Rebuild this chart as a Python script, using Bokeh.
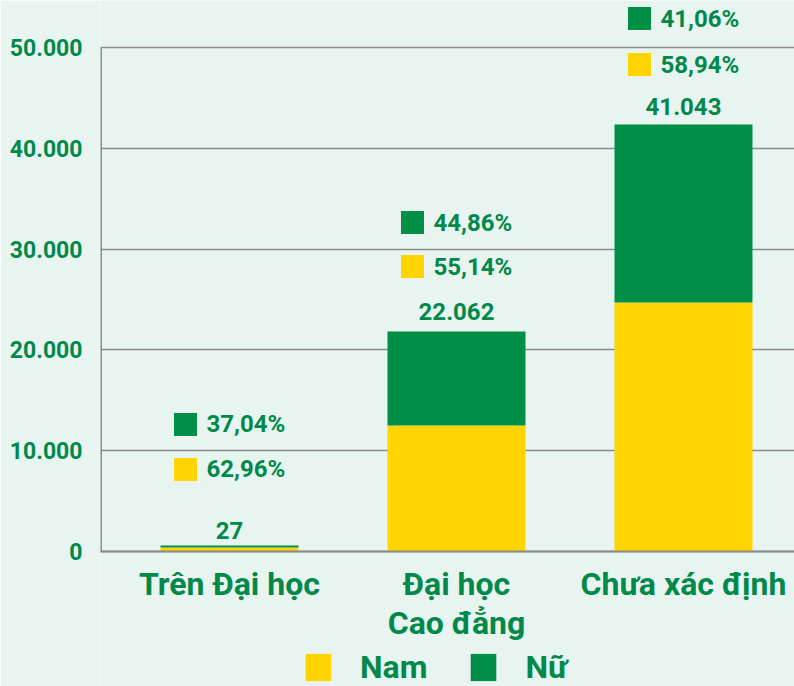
from bokeh.plotting import figure
from bokeh.models import Range1d, FixedTicker, Legend, LegendItem, ColumnDataSource
from bokeh.core.properties import value
from bokeh.embed import file_html
from bokeh.resources import INLINE

# ---- data ----
categories = ["Trên Đại học", "Đại học\nCao đẳng", "Chưa xác định"]
series = ["Nam", "Nữ"]
nam = [400, 12500, 24700]
nu = [200, 9325, 17660]
total_labels = ["27", "22.062", "41.043"]
pct_nam = ["62,96%", "55,14%", "58,94%"]
pct_nu = ["37,04%", "44,86%", "41,06%"]
y_ticks = [0, 10000, 20000, 30000, 40000, 50000]
y_tick_labels = ["0", "10.000", "20.000", "30.000", "40.000", "50.000"]

# ---- style ----
GREEN = "#008f47"
YELLOW = "#ffd400"
TEXT = "#00894a"
BG = "#e8f4f0"
GRID = "#8c8c8c"
FONT = "Roboto"

FL = 100
FW = 694
FH = 686
BASE_PX = 551            # page y of value 0
PX_PER_10K = 100.8
PX_PER_CAT = 227.0
X0 = -(229 - FL) / PX_PER_CAT
X1 = X0 + FW / PX_PER_CAT
Y0 = -(FH - BASE_PX) / PX_PER_10K * 10000
Y1 = BASE_PX / PX_PER_10K * 10000
upp = 10000 / PX_PER_10K   # data units per pixel (y)
xpp = 1.0 / PX_PER_CAT     # data units per pixel (x)

lab_off = [15, 20, 18]
nam_off = [76, 65, 60]
nu_off = [121, 109, 106]

xs = list(range(len(categories)))
tops = [a + b for a, b in zip(nam, nu)]

p = figure(frame_width=FW, frame_height=FH, x_range=Range1d(X0, X1), y_range=Range1d(Y0, Y1),
           output_backend="svg", toolbar_location=None,
           min_border_left=FL, min_border_right=0, min_border_top=0,
           min_border_bottom=0,
           background_fill_color=BG, border_fill_color=BG, outline_line_color=None)

src = ColumnDataSource(dict(x=xs, nam=nam, nu=nu))
rs = p.vbar_stack(["nam", "nu"], x="x", width=138 * xpp, source=src,
                  fill_color=[YELLOW, GREEN], line_color=None)

# axis lines
p.segment(x0=[X0], y0=[0], x1=[X0], y1=[y_ticks[-1]], line_color=GRID, line_width=3)
p.segment(x0=[X0], y0=[0], x1=[X1], y1=[0], line_color=GRID, line_width=2)

# labels above bars
p.text(x=xs, y=tops, text=total_labels, y_offset=[-o for o in lab_off],
       text_align="center", text_baseline="middle", text_font=value(FONT),
       text_font_style="bold", text_font_size="24px", text_color=TEXT)

sq_x = [x - 44 * xpp for x in xs]
tx_x = [x - 23 * xpp for x in xs]
p.rect(x=sq_x, y=[t + o * upp for t, o in zip(tops, nam_off)], width=23, height=23,
       width_units="screen", height_units="screen", fill_color=YELLOW, line_color=None)
p.rect(x=sq_x, y=[t + o * upp for t, o in zip(tops, nu_off)], width=23, height=23,
       width_units="screen", height_units="screen", fill_color=GREEN, line_color=None)
p.text(x=tx_x, y=tops, text=pct_nam, y_offset=[-o for o in nam_off],
       text_align="left", text_baseline="middle", text_font=value(FONT),
       text_font_style="bold", text_font_size="24px", text_color=TEXT)
p.text(x=tx_x, y=tops, text=pct_nu, y_offset=[-o for o in nu_off],
       text_align="left", text_baseline="middle", text_font=value(FONT),
       text_font_style="bold", text_font_size="24px", text_color=TEXT)

# category labels (below baseline)
cx, cy, ct, coff = [], [], [], []
for x, c in zip(xs, categories):
    for k, line in enumerate(c.split("\n")):
        cx.append(x)
        cy.append(0)
        ct.append(line)
        coff.append(32 + 39 * k)
p.text(x=cx, y=cy, text=ct, y_offset=coff, text_align="center", text_baseline="middle",
       text_font=value(FONT), text_font_style="bold", text_font_size="32px",
       text_color=TEXT)

# axes
p.xaxis.visible = False
p.yaxis.ticker = FixedTicker(ticks=y_ticks)
p.yaxis.major_label_overrides = {t: l for t, l in zip(y_ticks, y_tick_labels)}
p.yaxis.axis_line_color = None
p.yaxis.major_tick_line_color = None
p.yaxis.minor_tick_line_color = None
p.yaxis.major_label_standoff = 12
p.yaxis.major_label_text_font = FONT
p.yaxis.major_label_text_font_style = "bold"
p.yaxis.major_label_text_font_size = "23px"
p.yaxis.major_label_text_color = TEXT

p.xgrid.visible = False
p.ygrid.grid_line_color = GRID
p.ygrid.grid_line_width = 1.5

legend = Legend(items=[LegendItem(label=series[0], renderers=[rs[0]]),
                       LegendItem(label=series[1], renderers=[rs[1]])],
                orientation="horizontal", location=(202, 0),
                glyph_width=32, glyph_height=34, label_standoff=26, spacing=40,
                label_text_font=FONT, label_text_font_size="32px",
                label_text_font_style="bold",
                label_text_color=TEXT, background_fill_alpha=0,
                border_line_color=None, padding=0, margin=0)
p.add_layout(legend, "center")

open("out.html", "w").write(file_html(p, INLINE))
